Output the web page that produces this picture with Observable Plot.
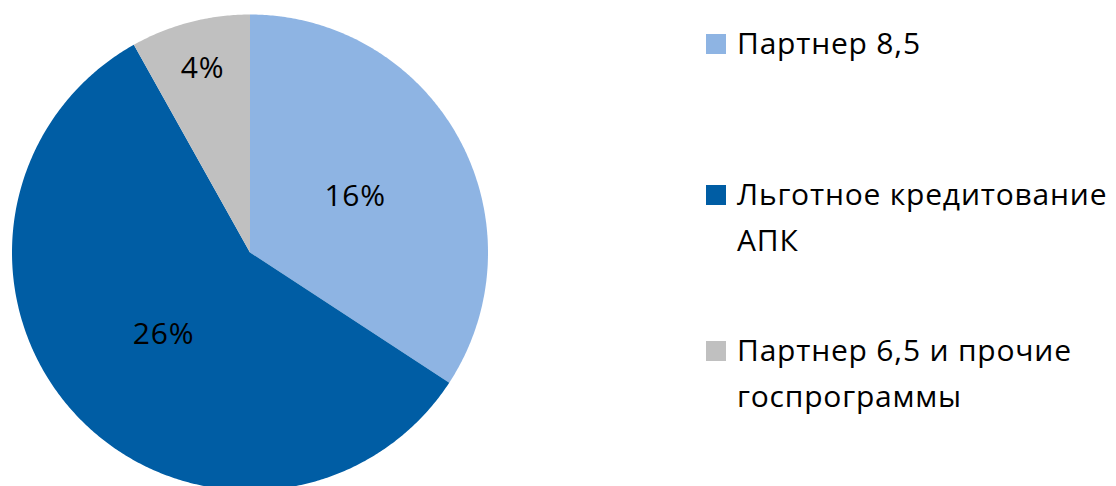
<!DOCTYPE html>
<html>
<head>
<meta charset="utf-8">
<script src="https://cdn.jsdelivr.net/npm/d3@7"></script>
<script src="https://cdn.jsdelivr.net/npm/@observablehq/plot@0.6"></script>
<style>
  body { margin: 0; background: #fff; font-family: "Open Sans", "Noto Sans", sans-serif; }
  #wrap { position: relative; width: 1116px; height: 486px; overflow: hidden; }
  #chart { position: absolute; left: 0; top: 0; }
  #chart svg text { letter-spacing: 0.8px; }
  .item { position: absolute; left: 706px; font-size: 30px; line-height: 46px; color: #000; letter-spacing: 0.8px; }
  .item .sw { position: absolute; left: 0; top: 14px; width: 20px; height: 20px; }
  .item .tx { margin-left: 31px; white-space: nowrap; }
</style>
</head>
<body>
<div id="wrap"><div id="chart"></div></div>
<script>
// Data
const categories = ["Партнер 8,5", "Льготное кредитование АПК", "Партнер 6,5 и прочие госпрограммы"];
const legendLines = [["Партнер 8,5"], ["Льготное кредитование", "АПК"], ["Партнер 6,5 и прочие", "госпрограммы"]];
const values = [15.6, 26.3, 3.7];
const labels = ["16%", "26%", "4%"];
const colors = ["#8EB4E3", "#005DA4", "#C0C0C0"];

// Build sector polygons from the data (angles clockwise from 12 o'clock)
const pie = d3.pie().sort(null).value(d => d)(values);
const sectorPts = [];
const labelPts = [];
pie.forEach((p, i) => {
  const a0 = p.startAngle, a1 = p.endAngle;
  const n = Math.max(2, Math.ceil((a1 - a0) * 180 / Math.PI * 2));
  for (let k = 0; k <= n; k++) {
    const t = a0 + (a1 - a0) * k / n;
    sectorPts.push({cat: categories[i], x: Math.sin(t), y: Math.cos(t)});
  }
  const mid = (a0 + a1) / 2;
  const frac = (a1 - a0) / (2 * Math.PI);
  const r = frac < 0.15 ? 0.8 : 0.5;
  labelPts.push({label: labels[i], x: r * Math.sin(mid), y: r * Math.cos(mid)});
});

const cx = 250, cy = 252.5, R = 238;
const plot = Plot.plot({
  width: 1116,
  height: 486,
  margin: 0,
  x: {domain: [-1, 1], range: [cx - R, cx + R], axis: null},
  y: {domain: [-1, 1], range: [cy + R, cy - R], axis: null},
  color: {domain: categories, range: colors},
  style: {background: "transparent", fontFamily: "'Open Sans', 'Noto Sans', sans-serif"},
  marks: [
    Plot.area(sectorPts, {x1: () => 0, y1: () => 0, x2: "x", y2: "y", z: "cat", fill: "cat", curve: "linear"}),
    Plot.text(labelPts, {x: "x", y: "y", text: "label", fontSize: 30, fill: "#000"})
  ]
});
document.getElementById("chart").appendChild(plot);

// Legend
const tops = [20, 171, 327];
const wrap = document.getElementById("wrap");
categories.forEach((c, i) => {
  const div = document.createElement("div");
  div.className = "item";
  div.style.top = tops[i] + "px";
  const sw = document.createElement("div");
  sw.className = "sw";
  sw.style.background = colors[i];
  div.appendChild(sw);
  legendLines[i].forEach(line => {
    const t = document.createElement("div");
    t.className = "tx";
    t.textContent = line;
    div.appendChild(t);
  });
  wrap.appendChild(div);
});
</script>
</body>
</html>
